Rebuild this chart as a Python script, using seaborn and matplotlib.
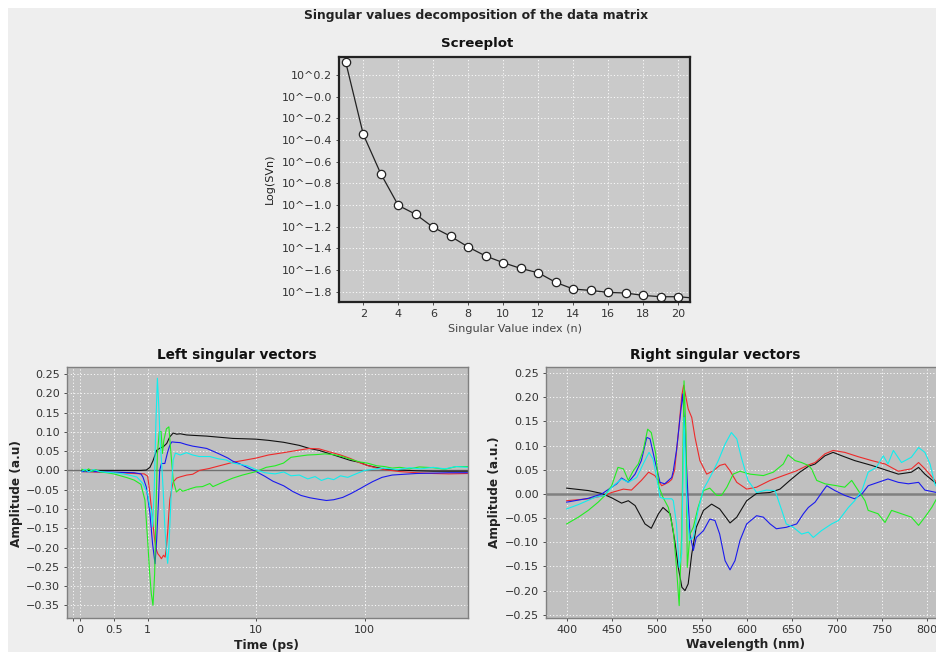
import numpy as np
import pandas as pd
import matplotlib
matplotlib.use("Agg")
import matplotlib.pyplot as plt
from matplotlib.patches import Rectangle
import seaborn as sns

# ---------------- data ----------------
sv_index = list(range(1, 22))
sv_log = [0.317, -0.348, -0.711, -1.003, -1.086, -1.206, -1.289, -1.388, -1.471, -1.532,
          -1.585, -1.625, -1.714, -1.775, -1.788, -1.806, -1.812, -1.834, -1.846, -1.846, -1.86]
scree_xticks = [2, 4, 6, 8, 10, 12, 14, 16, 18, 20]
scree_yticks = [0.2, 0.0, -0.2, -0.4, -0.6, -0.8, -1.0, -1.2, -1.4, -1.6, -1.8]
scree_yticklabels = ["10^0.2", "10^\u22120.0", "10^\u22120.2", "10^\u22120.4", "10^\u22120.6",
                     "10^\u22120.8", "10^\u22121.0", "10^\u22121.2", "10^\u22121.4",
                     "10^\u22121.6", "10^\u22121.8"]

# Left singular vectors (time in ps)
t_black = [0.03, 0.3, 0.6, 0.9, 0.98, 1.05, 1.12, 1.21, 1.30, 1.39, 1.5, 1.6, 1.72, 1.85, 2.0, 2.28,
           2.6, 3.0, 3.5, 4.6, 6.1, 8, 10, 13, 17.9, 25, 31, 38, 52, 74, 90, 106, 138, 153, 211,
           300, 430, 600, 900]
v_black = [0, 0, 0, 0, 0.001, 0.008, 0.025, 0.052, 0.058, 0.061, 0.07, 0.087, 0.097, 0.094, 0.095,
           0.092, 0.091, 0.090, 0.089, 0.086, 0.083, 0.082, 0.081, 0.078, 0.073, 0.065, 0.057,
           0.052, 0.040, 0.026, 0.021, 0.013, 0.006, 0.003, 0.001, -0.001, -0.002, -0.002, -0.002]

t_red = [0.03, 0.2, 0.4, 0.6, 0.8, 0.95, 1.0, 1.04, 1.08, 1.12, 1.16, 1.20, 1.24, 1.29, 1.34, 1.40,
         1.45, 1.49, 1.53, 1.57, 1.6, 1.66, 1.72, 1.85, 1.98, 2.3, 2.6, 3.0, 3.7, 4.6, 6.1, 8, 10,
         13, 17.9, 24, 31, 38, 45, 60, 74, 90, 106, 130, 153, 211, 300, 430, 600, 900]
v_red = [-0.003, -0.004, -0.005, -0.006, -0.008, -0.009, -0.015, -0.05, -0.095, -0.14, -0.18,
         -0.205, -0.216, -0.222, -0.229, -0.22, -0.225, -0.198, -0.16, -0.11, -0.077, -0.05,
         -0.030, -0.02, -0.017, -0.012, -0.010, 0.0, 0.005, 0.012, 0.021, 0.027, 0.032, 0.040,
         0.046, 0.052, 0.057, 0.056, 0.050, 0.040, 0.031, 0.020, 0.013, 0.006, 0.002, -0.003,
         -0.006, -0.008, -0.009, -0.008]

t_blue = [0.03, 0.2, 0.4, 0.6, 0.8, 0.9, 0.93, 0.98, 1.05, 1.11, 1.17, 1.21, 1.26, 1.29, 1.34, 1.44,
          1.53, 1.6, 1.67, 1.8, 2.0, 2.28, 2.6, 3.03, 3.5, 4.0, 4.63, 5.5, 6.1, 7.07, 8.5, 10, 12,
          14.3, 18, 21.9, 26, 31.4, 38, 44.5, 52, 63, 75, 90, 104, 119, 145, 180, 230, 300, 430,
          600, 900]
v_blue = [-0.003, -0.003, -0.004, -0.005, -0.006, -0.009, -0.017, -0.043, -0.112, -0.19, -0.242,
          -0.181, -0.077, 0.0, 0.018, 0.018, 0.048, 0.065, 0.074, 0.073, 0.072, 0.067, 0.063,
          0.060, 0.057, 0.050, 0.042, 0.032, 0.024, 0.017, 0.006, -0.003, -0.015, -0.028, -0.040,
          -0.055, -0.065, -0.071, -0.075, -0.078, -0.076, -0.070, -0.060, -0.048, -0.038, -0.029,
          -0.018, -0.012, -0.010, -0.008, -0.007, -0.006, -0.006]

t_green = [0.03, 0.08, 0.13, 0.18, 0.23, 0.3, 0.4, 0.5, 0.6, 0.7, 0.8, 0.9, 0.96, 1.0, 1.04, 1.08,
           1.12, 1.16, 1.20, 1.23, 1.28, 1.33, 1.37, 1.41, 1.49, 1.57, 1.64, 1.72, 1.84, 1.98, 2.1,
           2.28, 2.5, 2.8, 3.2, 3.74, 4.0, 5.0, 6.1, 7.5, 10, 12.4, 15, 17.9, 21, 25, 30, 36, 43,
           52, 62, 74, 90, 106, 130, 153, 180, 211, 260, 320, 430, 550, 700, 900]
v_green = [0.003, -0.002, 0.004, -0.003, 0.002, -0.004, -0.006, -0.009, -0.014, -0.019, -0.025,
           -0.036, -0.077, -0.181, -0.26, -0.319, -0.35, -0.268, -0.077, 0.044, 0.10, 0.101,
           0.044, 0.078, 0.108, 0.113, 0.044, -0.025, -0.056, -0.048, -0.054, -0.051, -0.047,
           -0.043, -0.042, -0.034, -0.042, -0.030, -0.020, -0.012, -0.003, 0.008, 0.012, 0.019,
           0.034, 0.037, 0.040, 0.041, 0.043, 0.041, 0.036, 0.029, 0.022, 0.019, 0.012, 0.010,
           0.006, 0.008, 0.004, 0.009, 0.007, 0.003, 0.010, 0.010]

t_cyan = [0.03, 0.08, 0.13, 0.2, 0.3, 0.4, 0.5, 0.6, 0.7, 0.84, 0.93, 1.0, 1.04, 1.08, 1.11, 1.15,
          1.19, 1.23, 1.27, 1.30, 1.34, 1.39, 1.44, 1.49, 1.53, 1.57, 1.6, 1.66, 1.72, 1.8, 2.0,
          2.28, 2.6, 3.0, 3.74, 4.5, 5.3, 6.1, 7, 8.3, 10, 12, 15, 18, 21, 25, 30, 35, 40, 46, 52,
          60, 70, 85, 100, 120, 150, 200, 260, 330, 430, 550, 700, 900]
v_cyan = [-0.002, 0.003, -0.004, 0.002, -0.003, -0.005, -0.006, -0.008, -0.011, -0.017, -0.034,
          -0.06, -0.09, -0.103, -0.146, -0.05, 0.12, 0.239, 0.16, 0.08, 0.027, -0.05, -0.146,
          -0.21, -0.241, -0.2, -0.146, -0.04, 0.027, 0.045, 0.040, 0.046, 0.040, 0.036, 0.036,
          0.030, 0.027, 0.019, 0.016, 0.012, 0.002, -0.006, -0.009, -0.004, -0.014, -0.012,
          -0.022, -0.016, -0.026, -0.020, -0.024, -0.014, -0.018, -0.008, 0.0, 0.003, 0.006,
          0.002, 0.007, 0.004, 0.008, 0.004, 0.010, 0.008]

# Right singular vectors (wavelength in nm)
w_black = [400, 424, 439, 450, 461, 468.5, 476, 487, 494, 502, 507, 515, 520, 524, 528, 531.5, 535,
           539, 544, 552, 561, 570, 581.5, 589, 600, 611, 626, 637, 648, 659, 668.5, 676, 687, 696,
           705.6, 720, 739, 757, 768.5, 783, 791, 798, 811]
r_black = [0.012, 0.007, 0.001, -0.008, -0.019, -0.014, -0.024, -0.062, -0.071, -0.041, -0.028,
           -0.041, -0.096, -0.152, -0.193, -0.2, -0.186, -0.124, -0.069, -0.034, -0.021, -0.031,
           -0.06, -0.048, -0.014, 0.001, 0.003, 0.010, 0.028, 0.045, 0.057, 0.062, 0.079, 0.086,
           0.079, 0.069, 0.059, 0.048, 0.041, 0.045, 0.055, 0.041, 0.021]

w_red = [400, 424, 442.6, 450, 463, 472, 483, 491, 498, 505.6, 513, 516.7, 520, 524, 528, 530, 535,
         539, 542.6, 548, 555.6, 563, 570, 576, 581.5, 589, 600, 611, 626, 640.7, 655.6, 668.5,
         676, 687, 696, 709, 724, 739, 753.7, 768.5, 783, 791, 798, 811]
r_red = [-0.014, -0.010, -0.003, 0.003, 0.010, 0.008, 0.028, 0.045, 0.038, 0.017, 0.024, 0.030,
         0.050, 0.124, 0.205, 0.225, 0.176, 0.158, 0.117, 0.069, 0.041, 0.048, 0.059, 0.062,
         0.048, 0.024, 0.010, 0.014, 0.028, 0.038, 0.048, 0.060, 0.065, 0.083, 0.090, 0.086,
         0.077, 0.069, 0.062, 0.047, 0.052, 0.065, 0.052, 0.024]

w_blue = [400, 424, 439, 450, 455.6, 461, 468.5, 476, 483, 489, 492.6, 498, 503.7, 509, 516.7, 518.5,
          522, 526, 529, 531.5, 535, 537, 540.7, 544, 552, 559, 564.8, 570, 576, 581.5, 587,
          592.6, 600, 611, 618.5, 626, 633, 644, 655.6, 663, 668.5, 676, 685, 689, 698, 709, 720,
          728, 735, 746, 757, 768.5, 779.6, 791, 798, 811]
r_blue = [-0.017, -0.009, 0.0, 0.014, 0.021, 0.033, 0.024, 0.041, 0.069, 0.117, 0.114, 0.069,
          0.024, 0.021, 0.034, 0.048, 0.090, 0.158, 0.207, 0.124, -0.014, -0.083, -0.117, -0.090,
          -0.076, -0.052, -0.055, -0.083, -0.138, -0.157, -0.138, -0.096, -0.062, -0.045, -0.048,
          -0.062, -0.072, -0.069, -0.062, -0.041, -0.028, -0.017, 0.007, 0.017, 0.007, -0.003,
          -0.010, 0.0, 0.017, 0.024, 0.031, 0.024, 0.021, 0.024, 0.008, 0.003]

w_green = [400, 413, 424, 435, 442.6, 450, 457, 463, 468.5, 474, 479.6, 485, 490, 494, 499, 502.6,
           507, 513, 518.5, 522, 525, 527.8, 530.4, 532.6, 534, 537, 540.7, 546, 552, 559, 566.7,
           572, 578, 585, 592.6, 603.7, 618.5, 629.6, 640.7, 646, 653.7, 661, 668.5, 672, 677.8,
           687, 700, 709, 716.7, 724, 731.5, 735, 746, 753.7, 761, 772, 783, 791, 798, 805.6, 811]
r_green = [-0.062, -0.048, -0.034, -0.017, -0.003, 0.017, 0.055, 0.052, 0.028, 0.048, 0.062, 0.090,
           0.134, 0.127, 0.083, 0.014, -0.007, -0.028, -0.076, -0.152, -0.231, -0.083, 0.234,
           0.124, -0.152, -0.083, -0.069, -0.028, 0.007, 0.012, -0.003, -0.003, 0.014, 0.041,
           0.047, 0.041, 0.038, 0.045, 0.062, 0.081, 0.069, 0.065, 0.059, 0.052, 0.028, 0.021,
           0.017, 0.014, 0.028, 0.007, -0.014, -0.034, -0.041, -0.059, -0.034, -0.041, -0.048,
           -0.065, -0.048, -0.028, -0.010]

w_cyan = [400, 413, 431.5, 442.6, 450, 461, 468.5, 477.8, 485, 491.5, 496, 500, 503.7, 509, 516.7,
          518.5, 522, 525, 527.8, 530.4, 533.3, 536.3, 540.7, 546, 552, 557.4, 563, 568.5, 576,
          583, 589, 594, 601.5, 611, 622, 631.5, 639, 644, 651.8, 661, 668.5, 674, 683, 694.4,
          702, 713, 720, 728, 735, 744, 751.8, 757, 763, 772, 783, 791, 798, 803.7, 809, 811]
r_cyan = [-0.031, -0.022, -0.007, -0.003, 0.014, 0.031, 0.024, 0.034, 0.062, 0.086, 0.072, 0.034,
          -0.007, -0.010, -0.010, -0.014, -0.062, -0.152, -0.124, 0.158, -0.014, -0.096, -0.090,
          -0.034, 0.010, 0.028, 0.048, 0.069, 0.103, 0.127, 0.114, 0.076, 0.028, 0.003, 0.008,
          0.007, -0.034, -0.062, -0.069, -0.083, -0.079, -0.090, -0.076, -0.062, -0.055, -0.028,
          -0.014, 0.007, 0.045, 0.055, 0.079, 0.062, 0.090, 0.065, 0.076, 0.096, 0.086, 0.062,
          0.021, 0.015]

vector_names = ["1", "2", "3", "4", "5"]
vector_colors = ["#111111", "#EE2A2A", "#1A1AEE", "#22EE22", "#11EEEE"]

left_xticks = [-0.1, 0, 0.5, 1, 10, 100]
left_xticklabels = ["", "0", "0.5", "1", "10", "100"]
left_yticks = [0.25, 0.20, 0.15, 0.10, 0.05, 0.0, -0.05, -0.10, -0.15, -0.20, -0.25, -0.30, -0.35]
right_xticks = [400, 450, 500, 550, 600, 650, 700, 750, 800]
right_yticks = [0.25, 0.20, 0.15, 0.10, 0.05, 0.0, -0.05, -0.10, -0.15, -0.20, -0.25]

# ---------------- build frames ----------------
left_df = pd.concat([
    pd.DataFrame({"x": t, "v": v, "vec": name})
    for t, v, name in zip([t_black, t_red, t_blue, t_green, t_cyan],
                          [v_black, v_red, v_blue, v_green, v_cyan], vector_names)
], ignore_index=True)
right_df = pd.concat([
    pd.DataFrame({"x": w, "v": r, "vec": name})
    for w, r, name in zip([w_black, w_red, w_blue, w_green, w_cyan],
                          [r_black, r_red, r_blue, r_green, r_cyan], vector_names)
], ignore_index=True)
scree_df = pd.DataFrame({"n": sv_index, "logsv": sv_log})

palette = dict(zip(vector_names, vector_colors))


def ylab(vals):
    return [("%.2f" % v).replace("-", "\u2212") if abs(v) > 1e-9 else "0.00" for v in vals]


# ---------------- figure ----------------
W, H = 937, 652
fig = plt.figure(figsize=(W / 100, H / 100), dpi=100)
fig.patch.set_facecolor("white")
fig.patches.append(Rectangle((8 / W, 0), 1, 1 - 8 / H, transform=fig.transFigure,
                             facecolor="#EEEEEE", edgecolor="none", zorder=-10))


def add_ax(x0, y0, x1, y1):
    return fig.add_axes([x0 / W, 1 - y1 / H, (x1 - x0) / W, (y1 - y0) / H])


tick_col = "#333333"
grid_kw = dict(color="white", linestyle=(0, (1.2, 2.2)), linewidth=0.7, alpha=0.9)

fig.text(476 / W, 1 - 15 / H, "Singular values decomposition of the data matrix",
         ha="center", va="center", fontsize=8.9, fontweight="bold", color="#222222")

# Screeplot
ax_s = add_ax(339.3, 56.7, 690, 301.7)
ax_s.set_facecolor("#CACACA")
sns.lineplot(data=scree_df, x="n", y="logsv", ax=ax_s, color="#222222", linewidth=0.9,
             marker="o", markersize=6, markerfacecolor="white", markeredgecolor="#222222",
             markeredgewidth=0.9)
ax_s.set_xlim(0.63, 20.67)
ax_s.set_ylim(-1.892, 0.369)
ax_s.set_xticks(scree_xticks)
ax_s.set_yticks(scree_yticks)
ax_s.set_yticklabels(scree_yticklabels)
ax_s.grid(True, **grid_kw)
ax_s.set_axisbelow(True)
for s in ax_s.spines.values():
    s.set_color("#222222")
    s.set_linewidth(1.6)
ax_s.set_xlabel("Singular Value index (n)", fontsize=8, color="#444444")
ax_s.set_ylabel("Log(SVn)", fontsize=8, color="#222222")
ax_s.xaxis.set_label_coords(0.5, -0.111)
ax_s.xaxis.label.set_va("center")
ax_s.yaxis.set_label_coords(-0.198, 0.5)
ax_s.yaxis.label.set_va("center")
fig.text(477 / W, 1 - 44 / H, "Screeplot", ha="center", va="center", fontsize=9.6,
         fontweight="bold", color="#111111")

# Left singular vectors
ax_l = add_ax(67, 366.7, 468, 617.7)
ax_l.set_facecolor("#C0C0C0")
ax_l.axhline(0, color="#707070", linewidth=1.0, zorder=1.5)
sns.lineplot(data=left_df, x="x", y="v", hue="vec", hue_order=vector_names, palette=palette,
             ax=ax_l, linewidth=0.8, sort=False, estimator=None, legend=False)
K = 1.6


def fwd(t):
    t = np.asarray(t, dtype=float)
    return np.where(t <= 1, t, 1 + K * np.log10(np.maximum(t, 1)))


def inv(u):
    u = np.asarray(u, dtype=float)
    return np.where(u <= 1, u, 10 ** ((np.minimum(u, 50) - 1) / K))


ax_l.set_xscale("function", functions=(fwd, inv))
ax_l.set_xlim(-0.19, 900)
ax_l.set_ylim(-0.382, 0.269)
ax_l.set_xticks(left_xticks)
ax_l.set_xticklabels(left_xticklabels)
ax_l.xaxis.set_minor_locator(matplotlib.ticker.NullLocator())
ax_l.set_yticks(left_yticks)
ax_l.set_yticklabels(ylab(left_yticks))
ax_l.grid(True, **grid_kw)
ax_l.set_axisbelow(True)
ax_l.set_xlabel("Time (ps)", fontsize=8.8, fontweight="bold", color="#222222")
ax_l.set_ylabel("Amplitude (a.u)", fontsize=8.7, fontweight="bold", color="#222222")
ax_l.xaxis.set_label_coords(0.498, -0.109)
ax_l.xaxis.label.set_va("center")
ax_l.yaxis.set_label_coords(-0.127, 0.495)
ax_l.yaxis.label.set_va("center")
fig.text(237 / W, 1 - 355 / H, "Left singular vectors", ha="center", va="center",
         fontsize=9.8, fontweight="bold", color="#111111")

# Right singular vectors
ax_r = add_ax(545.7, 367.3, 940, 617.7)
ax_r.set_facecolor("#C0C0C0")
ax_r.axhline(0, color="#808080", linewidth=1.8, zorder=1.5)
sns.lineplot(data=right_df, x="x", y="v", hue="vec", hue_order=vector_names, palette=palette,
             ax=ax_r, linewidth=0.8, sort=False, estimator=None, legend=False)
ax_r.set_xlim(376.7, 814.8)
ax_r.set_ylim(-0.256, 0.262)
ax_r.set_xticks(right_xticks)
ax_r.set_yticks(right_yticks)
ax_r.set_yticklabels(ylab(right_yticks))
ax_r.grid(True, **grid_kw)
ax_r.set_axisbelow(True)
ax_r.set_xlabel("Wavelength (nm)", fontsize=8.8, fontweight="bold", color="#222222")
ax_r.set_ylabel("Amplitude (a.u.)", fontsize=8.7, fontweight="bold", color="#222222")
ax_r.xaxis.set_label_coords(0.511 * (391.3 / 394.3), -0.109)
ax_r.xaxis.label.set_va("center")
ax_r.yaxis.set_label_coords(-0.13 * (391.3 / 394.3), 0.5)
ax_r.yaxis.label.set_va("center")
fig.text(715 / W, 1 - 355 / H, "Right singular vectors", ha="center", va="center",
         fontsize=9.8, fontweight="bold", color="#111111")

for ax in (ax_l, ax_r):
    for s in ax.spines.values():
        s.set_color("#808080")
        s.set_linewidth(1.0)

for ax in (ax_s, ax_l, ax_r):
    ax.tick_params(axis="both", labelsize=8, colors=tick_col, length=2, width=0.6, pad=3,
                   direction="out")
    for lab in ax.get_xticklabels() + ax.get_yticklabels():
        lab.set_color(tick_col)

fig.savefig("out.png", dpi=100, facecolor=fig.get_facecolor())
